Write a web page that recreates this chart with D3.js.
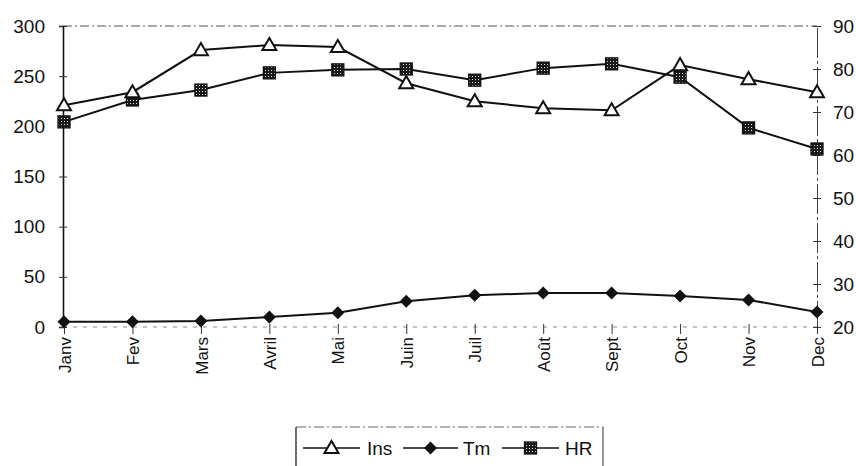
<!DOCTYPE html>
<html>
<head>
<meta charset="utf-8">
<script src="https://cdn.jsdelivr.net/npm/d3@7"></script>
<style>
  html, body { margin: 0; padding: 0; background: #fff; }
  svg text { font-family: "Liberation Sans", Arial, sans-serif; fill: #111; }
</style>
</head>
<body>
<svg id="chart" width="856" height="466"></svg>
<script>
// Monthly climate series
const months = ["Janv", "Fev", "Mars", "Avril", "Mai", "Juin", "Juil", "Août", "Sept", "Oct", "Nov", "Dec"];
// Insolation (hours) – left axis
const ins = [221, 234, 276, 281, 279, 243, 225, 218, 216, 261, 247, 234];
// Mean temperature (°C) – right axis
const tm = [21.2, 21.2, 21.4, 22.3, 23.3, 26.0, 27.4, 27.9, 27.9, 27.2, 26.3, 23.5];
// Relative humidity (%) – right axis
const hr = [67.7, 72.8, 75.1, 79.1, 79.8, 80.0, 77.4, 80.2, 81.2, 78.1, 66.3, 61.4];
const leftTicks = [0, 50, 100, 150, 200, 250, 300];
const rightTicks = [20, 30, 40, 50, 60, 70, 80, 90];
const legendItems = ["Ins", "Tm", "HR"];

const svg = d3.select("#chart");
const plot = { left: 63, right: 817, top: 26, bottom: 327 };

const x = d3.scalePoint().domain(months).range([plot.left + 1, plot.right]);
const yL = d3.scaleLinear().domain([0, 300]).range([plot.bottom, plot.top]);
const yR = d3.scaleLinear().domain([20, 90]).range([plot.bottom, plot.top]);

// speckled fill for the HR squares
const defs = svg.append("defs");
const pat = defs.append("pattern").attr("id", "speckle")
  .attr("patternUnits", "userSpaceOnUse").attr("width", 3).attr("height", 3);
pat.append("rect").attr("width", 3).attr("height", 3).attr("fill", "#1a1a1a");
pat.append("rect").attr("x", 1).attr("y", 1).attr("width", 1).attr("height", 1).attr("fill", "#ddd");

// frame: dashed top border and dashed category axis
svg.append("line").attr("x1", plot.left).attr("x2", plot.right)
  .attr("y1", plot.top).attr("y2", plot.top)
  .attr("stroke", "#555").attr("stroke-width", 1.2).attr("stroke-dasharray", "9 3 2 3");
svg.append("line").attr("x1", plot.left).attr("x2", plot.right)
  .attr("y1", plot.bottom).attr("y2", plot.bottom)
  .attr("stroke", "#888").attr("stroke-width", 1).attr("stroke-dasharray", "4 6");

// left value axis
const gL = svg.append("g").attr("transform", `translate(${plot.left},0)`)
  .call(d3.axisLeft(yL).tickValues(leftTicks).tickSize(4).tickPadding(14));
gL.select(".domain").attr("stroke", "#111").attr("stroke-width", 1.6);
gL.selectAll(".tick line").attr("x2", 4).attr("x1", -4).attr("stroke", "#333");
gL.selectAll("text").style("font-size", "19px").attr("fill", "#111");

// right value axis
const gR = svg.append("g").attr("transform", `translate(${plot.right},0)`)
  .call(d3.axisRight(yR).tickValues(rightTicks).tickSize(4).tickPadding(12));
gR.select(".domain").attr("stroke", "#444").attr("stroke-width", 1).attr("stroke-dasharray", "30 3 3 3");
gR.selectAll(".tick line").attr("x1", -4).attr("x2", 4).attr("stroke", "#333");
gR.selectAll("text").style("font-size", "19px").attr("fill", "#111");

// category axis with rotated month labels
const gX = svg.append("g").attr("transform", `translate(0,${plot.bottom})`)
  .call(d3.axisBottom(x).tickSize(7).tickPadding(0));
gX.select(".domain").remove();
gX.selectAll(".tick line").attr("y1", -3).attr("stroke", "#333");
gX.selectAll("text")
  .style("font-size", "17px")
  .attr("text-anchor", "end")
  .attr("transform", "rotate(-90)")
  .attr("x", -10).attr("y", 0).attr("dy", "0.36em");

// series
const lineGen = (scale) => d3.line().x((d, i) => x(months[i])).y(d => scale(d));

function drawSeries(values, scale) {
  svg.append("path").datum(values)
    .attr("d", lineGen(scale))
    .attr("fill", "none").attr("stroke", "#111").attr("stroke-width", 2);
}
drawSeries(ins, yL);
drawSeries(tm, yR);
drawSeries(hr, yR);

const triangle = d3.symbol().type(d3.symbolTriangle).size(85);
const diamond = d3.symbol().type(d3.symbolSquare).size(85);

function drawTriangle(g, cx, cy) {
  g.append("path").attr("d", triangle())
    .attr("transform", `translate(${cx},${cy + 1})`)
    .attr("fill", "#fff").attr("stroke", "#111").attr("stroke-width", 2);
}
function drawDiamond(g, cx, cy) {
  g.append("path").attr("d", diamond())
    .attr("transform", `translate(${cx},${cy}) rotate(45)`)
    .attr("fill", "#111");
}
function drawSquare(g, cx, cy) {
  g.append("rect").attr("x", cx - 6).attr("y", cy - 6)
    .attr("width", 12).attr("height", 12)
    .attr("fill", "url(#speckle)").attr("stroke", "#111").attr("stroke-width", 1.3);
}

const marks = svg.append("g");
tm.forEach((v, i) => drawDiamond(marks, x(months[i]), yR(v)));
hr.forEach((v, i) => drawSquare(marks, x(months[i]), yR(v)));
ins.forEach((v, i) => drawTriangle(marks, x(months[i]), yL(v)));

// legend
const lg = svg.append("g");
lg.append("line").attr("x1", 296).attr("x2", 603).attr("y1", 427).attr("y2", 427)
  .attr("stroke", "#666").attr("stroke-width", 1).attr("stroke-dasharray", "10 3 2 3");
lg.append("line").attr("x1", 296).attr("x2", 296).attr("y1", 427).attr("y2", 466)
  .attr("stroke", "#111").attr("stroke-width", 1.2);
lg.append("line").attr("x1", 603).attr("x2", 603).attr("y1", 427).attr("y2", 466)
  .attr("stroke", "#333").attr("stroke-width", 1);

const legendLayout = [
  { x1: 303, x2: 360, text: 367 },
  { x1: 403, x2: 458, text: 463 },
  { x1: 502, x2: 559, text: 565 }
];
const ly = 448;
legendItems.forEach((name, i) => {
  const L = legendLayout[i];
  lg.append("line").attr("x1", L.x1).attr("x2", L.x2).attr("y1", ly).attr("y2", ly)
    .attr("stroke", "#111").attr("stroke-width", 1.5);
  const cx = (L.x1 + L.x2) / 2;
  if (i === 0) drawTriangle(lg, cx, ly);
  if (i === 1) drawDiamond(lg, cx, ly);
  if (i === 2) drawSquare(lg, cx, ly);
  lg.append("text").attr("x", L.text).attr("y", ly).attr("dy", "0.36em")
    .style("font-size", "19px").text(name);
});
</script>
</body>
</html>
